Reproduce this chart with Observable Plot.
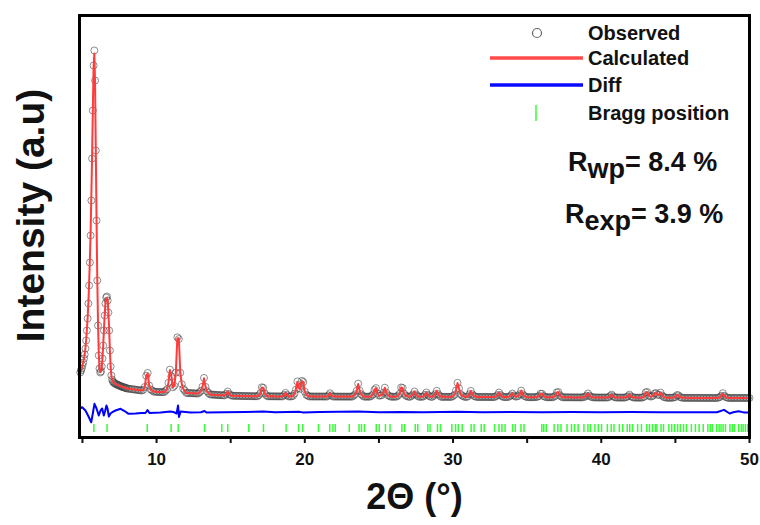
<!DOCTYPE html>
<html><head><meta charset="utf-8">
<script src="https://cdn.jsdelivr.net/npm/d3@7"></script>
<script src="https://cdn.jsdelivr.net/npm/@observablehq/plot@0.6"></script>
<style>
body{margin:0;background:#fff;font-family:"Liberation Sans",Arial,sans-serif;}
#wrap{position:relative;width:760px;height:525px;overflow:hidden;}
#chart{position:absolute;left:0;top:0;}
.ov{position:absolute;left:0;top:0;pointer-events:none;}
.lg{position:absolute;font-weight:bold;font-size:20px;line-height:1;color:#111;white-space:nowrap;}
.rf{position:absolute;font-weight:bold;font-size:27px;line-height:1;color:#111;white-space:nowrap;}
.rf span{position:relative;top:7px;}
</style></head>
<body><div id="wrap"><div id="chart"></div>
<svg class="ov" width="760" height="525">
<circle cx="537" cy="33" r="4.5" fill="none" stroke="#666" stroke-width="1.2"/>
<line x1="490" y1="58" x2="583" y2="58" stroke="#ff4a4a" stroke-width="3.5"/>
<line x1="490" y1="85" x2="583" y2="85" stroke="#0a0aff" stroke-width="3.5"/>
<line x1="536" y1="105" x2="536" y2="121" stroke="#33ff33" stroke-width="1.5"/>
</svg>
<div class="lg" style="left:588px;top:23px">Observed</div>
<div class="lg" style="left:588px;top:48px">Calculated</div>
<div class="lg" style="left:588px;top:75px">Diff</div>
<div class="lg" style="left:588px;top:103px">Bragg position</div>
<div class="rf" style="left:568px;top:149px">R<span>wp</span>= 8.4 %</div>
<div class="rf" style="left:565px;top:201px">R<span>exp</span>= 3.9 %</div>
</div>
<script>
// Observed / calculated intensities on a regular 2θ grid
const lowStart = 4.85, lowStep = 0.05;
const obsLow = [1625,1675,1725,1800,1875,1975,2075,2225,2425,2675,
2975,3350,3800,4375,5050,5925,6975,8175,9300,9675,
8925,7175,5425,3925,2800,2050,1725,1625,1650,1775,
1975,2300,2675,3050,3350,3500,3525,3425,3125,2675,
2175,1775,1550,1450,1400,1375,1362,1350,1338,1325,
1325,1312,1300,1300,1288,1275,1275,1262,1262,1250,
1250,1238,1238];
const calcLow = [1620,1670,1725,1800,1880,1980,2085,2240,2440,2700,
3000,3380,3860,4450,5150,6050,7050,8200,9250,9600,
8880,7150,5420,3950,2850,2080,1740,1630,1645,1760,
1970,2310,2700,3080,3370,3480,3490,3420,3140,2700,
2180,1770,1545,1450,1400,1375,1362,1350,1338,1325,
1325,1312,1300,1300,1288,1275,1275,1262,1262,1250,
1250,1238,1238];
const highStart = 8.0, highStep = 0.1;
const obsHigh = [
1225,1220,1215,1210,1205,1200,1195,1190,1185,1180,
1175,1190,1263,1545,1613,1300,1203,1176,1148,1145,
1140,1139,1137,1136,1135,1133,1167,1202,1368,1697,
1528,1256,1291,1622,2504,2461,1619,1333,1218,1174,
1115,1113,1111,1109,1107,1105,1103,1101,1099,1129,
1167,1272,1489,1266,1155,1112,1077,1074,1071,1068,
1065,1063,1061,1059,1057,1055,1053,1091,1149,1087,
1058,1044,1043,1042,1041,1040,1039,1038,1037,1036,
1035,1035,1034,1034,1033,1033,1032,1032,1031,1056,
1105,1255,1242,1105,1055,1030,1030,1029,1029,1029,
1028,1028,1028,1028,1027,1027,1062,1115,1062,1027,
1027,1027,1040,1095,1196,1402,1236,1215,1417,1387,
1146,1066,1046,1026,1026,1026,1025,1025,1025,1025,
1025,1025,1025,1024,1024,1024,1054,1106,1054,1024,
1024,1023,1023,1023,1023,1022,1022,1022,1022,1022,
1022,1022,1022,1048,1080,1168,1347,1168,1080,1048,
1021,1021,1021,1021,1021,1043,1077,1190,1235,1100,
1047,1049,1060,1121,1245,1121,1060,1038,1020,1020,
1019,1019,1025,1050,1096,1251,1238,1096,1050,1032,
1018,1018,1042,1077,1150,1077,1042,1018,1018,1018,
1026,1066,1125,1066,1036,1017,1017,1044,1085,1167,
1084,1043,1016,1016,1016,1016,1016,1016,1015,1015,
1037,1069,1178,1366,1232,1087,1050,1032,1014,1014,
1026,1082,1164,1082,1041,1026,1014,1013,1013,1013,
1013,1013,1013,1013,1012,1012,1012,1012,1012,1032,
1062,1124,1062,1032,1012,1011,1011,1011,1027,1051,
1098,1050,1026,1023,1039,1083,1172,1083,1039,1023,
1009,1009,1008,1008,1008,1008,1013,1019,1037,1095,
1092,1037,1019,1007,1007,1007,1006,1006,1018,1042,
1128,1136,1056,1022,1005,1005,1005,1004,1004,1004,
1003,1003,1003,1003,1003,1002,1002,1002,1010,1020,
1046,1101,1046,1019,1009,1001,1001,1001,1000,1000,
1000,1000,1000,1000,999,1007,1039,1071,1029,1007,
999,999,998,998,998,998,998,1011,1032,1073,
1031,1010,997,997,997,996,996,996,1004,1020,
1129,1137,1050,1025,1027,1048,1101,1110,1068,1063,
1124,1050,1016,1004,994,993,993,993,993,1002,
1014,1060,1056,1014,1001,992,992,991,991,991,
990,990,990,990,990,990,989,989,989,989,
989,989,989,988,988,988,988,988,988,998,
1010,1042,1108,1042,1010,998,988,988,988,988,
988,988,988,988,988,988,988,988,988,988,
988];
const calcHigh = [
1225,1220,1215,1210,1205,1200,1195,1190,1185,1180,
1175,1188,1260,1540,1600,1302,1203,1176,1148,1145,
1140,1139,1137,1136,1135,1133,1165,1200,1370,1690,
1530,1258,1295,1630,2480,2480,1625,1335,1218,1174,
1115,1113,1111,1109,1107,1105,1103,1101,1099,1129,
1167,1270,1480,1268,1155,1112,1077,1074,1071,1068,
1065,1063,1061,1059,1057,1055,1053,1091,1149,1087,
1058,1044,1043,1042,1041,1040,1039,1038,1037,1036,
1035,1035,1034,1034,1033,1033,1032,1032,1031,1056,
1105,1252,1240,1105,1055,1030,1030,1029,1029,1029,
1028,1028,1028,1028,1027,1027,1062,1115,1062,1027,
1027,1027,1040,1095,1196,1395,1236,1215,1410,1387,
1146,1066,1046,1026,1026,1026,1025,1025,1025,1025,
1025,1025,1025,1024,1024,1024,1054,1106,1054,1024,
1024,1023,1023,1023,1023,1022,1022,1022,1022,1022,
1022,1022,1022,1048,1080,1168,1340,1168,1080,1048,
1021,1021,1021,1021,1021,1043,1077,1190,1235,1100,
1047,1049,1060,1121,1245,1121,1060,1038,1020,1020,
1019,1019,1025,1050,1096,1251,1238,1096,1050,1032,
1018,1018,1042,1077,1150,1077,1042,1018,1018,1018,
1026,1066,1125,1066,1036,1017,1017,1044,1085,1167,
1084,1043,1016,1016,1016,1016,1016,1016,1015,1015,
1037,1069,1178,1360,1232,1087,1050,1032,1014,1014,
1026,1082,1164,1082,1041,1026,1014,1013,1013,1013,
1013,1013,1013,1013,1012,1012,1012,1012,1012,1032,
1062,1124,1062,1032,1012,1011,1011,1011,1027,1051,
1098,1050,1026,1023,1039,1083,1172,1083,1039,1023,
1009,1009,1008,1008,1008,1008,1013,1019,1037,1095,
1092,1037,1019,1007,1007,1007,1006,1006,1018,1042,
1128,1136,1056,1022,1005,1005,1005,1004,1004,1004,
1003,1003,1003,1003,1003,1002,1002,1002,1010,1020,
1046,1101,1046,1019,1009,1001,1001,1001,1000,1000,
1000,1000,1000,1000,999,1007,1039,1071,1029,1007,
999,999,998,998,998,998,998,1011,1032,1073,
1031,1010,997,997,997,996,996,996,1004,1020,
1129,1137,1050,1025,1027,1048,1101,1110,1068,1063,
1124,1050,1016,1004,994,993,993,993,993,1002,
1014,1060,1056,1014,1001,992,992,991,991,991,
990,990,990,990,990,990,989,989,989,989,
989,989,989,988,988,988,988,988,988,998,
1010,1040,1090,1040,1010,998,988,988,988,988,
988,988,988,988,988,988,988,988,988,988,
988];
// Difference curve (offset), [2θ, value]
const diffTheta = [4.85,4.98,5.2,5.41,5.59,5.71,5.81,5.95,6.1,6.22,6.33,6.44,6.52,6.62,6.69,6.78,6.89,7.01,7.23,7.57,7.84,8.11,8.58,9.0,9.25,9.39,9.52,10.27,10.94,11.2,11.35,11.45,11.51,11.62,12.29,13.0,13.23,13.37,14.5,16,17.2,18,19.6,19.85,21,23.6,25,26.5,28,30.3,32,34,36,38,40,42,44,46,47.8,48.28,48.66,48.9,49.27,49.6,50];
const diffVal =   [725,758,675,525,382,625,842,725,550,675,725,550,650,800,725,525,600,632,675,718,662,592,600,615,612,688,612,625,650,630,600,800,512,650,625,630,662,625,632,640,650,632,645,628,636,648,632,640,630,646,632,638,630,636,632,638,630,634,630,692,600,630,658,628,625];
// Bragg reflection positions (2θ)
const bragg = [5.77,6.66,9.37,10.98,11.46,13.24,14.40,14.80,16.22,17.21,18.74,19.58,19.86,20.92,21.68,21.90,22.05,23.00,23.66,23.82,24.02,24.82,25.02,25.44,25.75,26.55,26.74,27.45,27.62,28.30,28.45,28.95,29.15,29.92,30.17,30.35,30.62,31.22,31.42,31.90,32.10,32.80,33.10,33.30,33.51,34.02,34.20,34.58,34.79,35.99,36.12,36.29,36.82,37.07,37.28,37.69,37.99,38.20,38.44,38.83,39.10,39.27,39.57,39.80,40.02,40.41,40.67,40.86,41.22,41.45,41.75,41.92,42.11,42.45,42.71,43.07,43.25,43.46,43.65,43.75,44.03,44.20,44.56,44.75,44.95,45.15,45.33,45.55,45.75,46.08,46.35,46.60,46.88,47.19,47.35,47.49,47.78,47.95,48.08,48.22,48.38,48.68,48.85,48.98,49.27,49.45,49.57,49.72,49.87];
const xTicks = [5,10,15,20,25,30,35,40,45,50];
const xTickLabels = ["","10","","20","","30","","40","","50"];

const grid = (start, step, arr) => arr.map((v, i) => ({t: +(start + i*step).toFixed(2), v}));
const obsRows = grid(lowStart, lowStep, obsLow).concat(grid(highStart, highStep, obsHigh));
const calcRows = grid(lowStart, lowStep, calcLow).concat(grid(highStart, highStep, calcHigh));
const diffRows = diffTheta.map((t, i) => ({t, v: diffVal[i]}));
const labelOf = new Map(xTicks.map((d, i) => [d, xTickLabels[i]]));

const chart = Plot.plot({
  width: 760, height: 525,
  marginLeft: 79, marginRight: 11, marginTop: 15, marginBottom: 88,
  style: {fontFamily: "Liberation Sans, Arial, sans-serif", background: "#fff"},
  x: {domain: [4.8, 50]},
  y: {domain: [0, 10550], axis: null},
  marks: [
    Plot.dot(obsRows, {x: "t", y: "v", r: 3.5, stroke: "#444", strokeOpacity: 0.6, strokeWidth: 1, fill: "none"}),
    Plot.line(calcRows, {x: "t", y: "v", stroke: "#ff3b3b", strokeWidth: 2}),
    Plot.line(diffRows, {x: "t", y: "v", stroke: "#0000ff", strokeWidth: 2}),
    Plot.ruleX(bragg, {y1: 125, y2: 325, stroke: "#33ff33", strokeWidth: 1.5}),
    Plot.axisX({ticks: xTicks, tickFormat: d => labelOf.get(d), tickSize: 6, tickPadding: 9,
      fontSize: 17, fontWeight: "bold", strokeWidth: 2, label: null, color: "#111"}),
    Plot.frame({stroke: "#000", strokeWidth: 3}),
    Plot.text(["2Θ (°)"], {text: d => d, frameAnchor: "bottom", lineAnchor: "middle", dy: 60, fontSize: 36, fontWeight: "bold", fill: "#111"}),
    Plot.text(["Intensity (a.u)"], {text: d => d, frameAnchor: "left", textAnchor: "middle", lineAnchor: "middle", dx: -48, dy: -11, rotate: -90, fontSize: 39, fontWeight: "bold", fill: "#111"})
  ]
});
document.getElementById("chart").appendChild(chart);
</script>
</body></html>
